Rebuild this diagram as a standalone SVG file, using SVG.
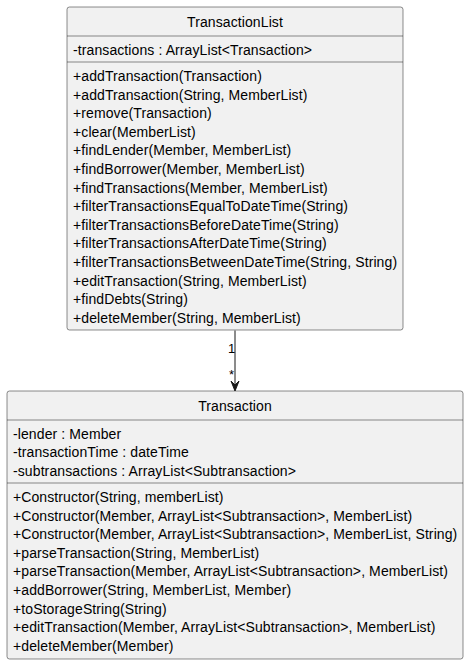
<svg xmlns="http://www.w3.org/2000/svg" width="469" height="665" viewBox="0 0 469 665">
<style>
.box{fill:#F1F1F1;stroke:#181818;stroke-width:0.5}
.sep{stroke:#181818;stroke-width:0.5}
text{font-family:"Liberation Sans",Arial,sans-serif;font-size:14px;fill:#000000;letter-spacing:0.1px}
.title{text-anchor:middle}
.lbl{font-size:13px;letter-spacing:0}
.edge{stroke:#181818;stroke-width:1;fill:none}
</style>
<rect width="469" height="665" fill="#FFFFFF"/>
<g id="TransactionList">
<rect class="box" x="67" y="7" width="336" height="323" rx="2.5" ry="2.5"/>
<text class="title" x="235" y="27">TransactionList</text>
<line class="sep" x1="67" y1="36" x2="403" y2="36"/>
<text x="73" y="55">-transactions : ArrayList&lt;Transaction&gt;</text>
<line class="sep" x1="67" y1="62" x2="403" y2="62"/>
<text x="73" y="81">+addTransaction(Transaction)</text>
<text x="73" y="99.6">+addTransaction(String, MemberList)</text>
<text x="73" y="118.2">+remove(Transaction)</text>
<text x="73" y="136.8">+clear(MemberList)</text>
<text x="73" y="155.4">+findLender(Member, MemberList)</text>
<text x="73" y="174">+findBorrower(Member, MemberList)</text>
<text x="73" y="192.6">+findTransactions(Member, MemberList)</text>
<text x="73" y="211.2">+filterTransactionsEqualToDateTime(String)</text>
<text x="73" y="229.8">+filterTransactionsBeforeDateTime(String)</text>
<text x="73" y="248.4">+filterTransactionsAfterDateTime(String)</text>
<text x="73" y="267">+filterTransactionsBetweenDateTime(String, String)</text>
<text x="73" y="285.6">+editTransaction(String, MemberList)</text>
<text x="73" y="304.2">+findDebts(String)</text>
<text x="73" y="322.8">+deleteMember(String, MemberList)</text>
</g>
<g id="Transaction">
<rect class="box" x="7" y="391" width="456" height="268" rx="2.5" ry="2.5"/>
<text class="title" x="235" y="411">Transaction</text>
<line class="sep" x1="7" y1="420" x2="463" y2="420"/>
<text x="13" y="438.5">-lender : Member</text>
<text x="13" y="457.1">-transactionTime : dateTime</text>
<text x="13" y="475.7">-subtransactions : ArrayList&lt;Subtransaction&gt;</text>
<line class="sep" x1="7" y1="483" x2="463" y2="483"/>
<text x="13" y="502">+Constructor(String, memberList)</text>
<text x="13" y="520.6">+Constructor(Member, ArrayList&lt;Subtransaction&gt;, MemberList)</text>
<text x="13" y="539.2">+Constructor(Member, ArrayList&lt;Subtransaction&gt;, MemberList, String)</text>
<text x="13" y="557.8">+parseTransaction(String, MemberList)</text>
<text x="13" y="576.4">+parseTransaction(Member, ArrayList&lt;Subtransaction&gt;, MemberList)</text>
<text x="13" y="595">+addBorrower(String, MemberList, Member)</text>
<text x="13" y="613.6">+toStorageString(String)</text>
<text x="13" y="632.2">+editTransaction(Member, ArrayList&lt;Subtransaction&gt;, MemberList)</text>
<text x="13" y="650.8">+deleteMember(Member)</text>
</g>
<g id="connectors">
<line class="edge" x1="235" y1="330.5" x2="235" y2="389"/>
<polygon points="235,391 231,381 235,385 239,381" fill="#181818" stroke="#181818" stroke-width="1"/>
<text class="lbl" x="228" y="353">1</text>
<text class="lbl" x="229" y="379">*</text>
</g>
</svg>
